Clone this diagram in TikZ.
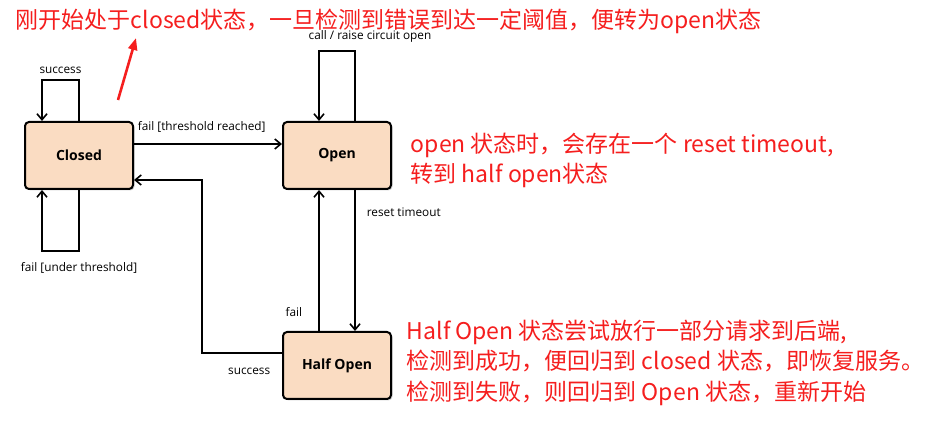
\documentclass[tikz,border=0pt]{standalone}
\usepackage{fontspec}
\setsansfont{Open Sans}
\newfontfamily\cjk{Noto Sans CJK SC}
\usetikzlibrary{arrows.meta, shadows}
\definecolor{boxfill}{RGB}{250,220,194}
\definecolor{notered}{RGB}{245,30,30}

\begin{document}
\begin{tikzpicture}[x=1pt,y=-1pt,>={Straight Barb[length=6pt,width=10pt]},line width=1.6pt,
  state node/.style={draw,rounded corners=4pt,line width=2pt,fill=boxfill,minimum width=108pt,minimum height=67pt,
    font=\sffamily\fontsize{14}{16}\selectfont\bfseries,drop shadow={shadow xshift=1.5pt,shadow yshift=-1.5pt,opacity=0.35}},
  label text/.style={font=\sffamily\fontsize{11.8}{13}\selectfont,inner sep=1pt},
  note/.style={text=notered,font=\cjk\fontsize{23}{30.5}\selectfont,align=left,inner sep=0pt,anchor=north west}]
  \useasboundingbox (0,0) rectangle (945,435);

  % states
  \node[state node] (closed) at (79,155.5) {Closed};
  \node[state node] (open) at (337,155.5) {Open};
  \node[state node] (halfopen) at (337,365.5) {Half Open};

  % transitions
  \draw[->] (closed.north) -- ++(0,-41) -- node[label text,above=5pt] {success} ++(-37,0) -- ([xshift=-37pt]closed.north);
  \draw[->] (closed.south) -- ++(0,61) node[label text,below=10pt] {fail [under threshold]} -- ++(-37,0) -- ([xshift=-37pt]closed.south);
  \draw[->] ([yshift=11.5pt]closed.east) -- node[label text,pos=0,anchor=south west,xshift=2pt,yshift=10pt] {fail [threshold reached]} ([yshift=11.5pt]open.west);
  \draw[->] ([xshift=18pt]open.north) -- ++(0,-70) node[label text,anchor=south,xshift=15pt,yshift=7pt] {call / raise circuit open} -- ++(-36,0) -- ([xshift=-18pt]open.north);
  \draw[->] ([xshift=18pt]open.south) -- node[label text,pos=0.156,anchor=west,xshift=10pt] {reset timeout} ([xshift=18pt]halfopen.north);
  \draw[->] ([xshift=-18pt]halfopen.north) -- node[label text,pos=0.135,anchor=east,xshift=-15pt] {fail} ([xshift=-18pt]open.south);
  \draw[->] ([yshift=12.5pt]halfopen.west) -- node[label text,pos=0,anchor=north east,xshift=-10pt,yshift=-13pt] {success} ++(-80,0) |- ([yshift=-24.5pt]closed.east);

  % notes
  \node[note] (note top) at (15,8) {刚开始处于closed状态，一旦检测到错误到达一定阈值，便转为open状态};
  \node[note] (note open) at (410,132) {open 状态时，会存在一个 reset timeout,\\转到 half open状态};
  \node[note] (note half) at (406,319) {Half Open 状态尝试放行一部分请求到后端,\\检测到成功，便回归到 closed 状态，即恢复服务。\\检测到失败，则回归到 Open 状态，重新开始};
  \coordinate (hint tail) at (118,100);
  \coordinate (hint tip) at (136,38);
  \draw[notered,line width=2.6pt,-{Triangle[length=12pt,width=9pt]}] (hint tail) -- (hint tip);
\end{tikzpicture}
\end{document}
